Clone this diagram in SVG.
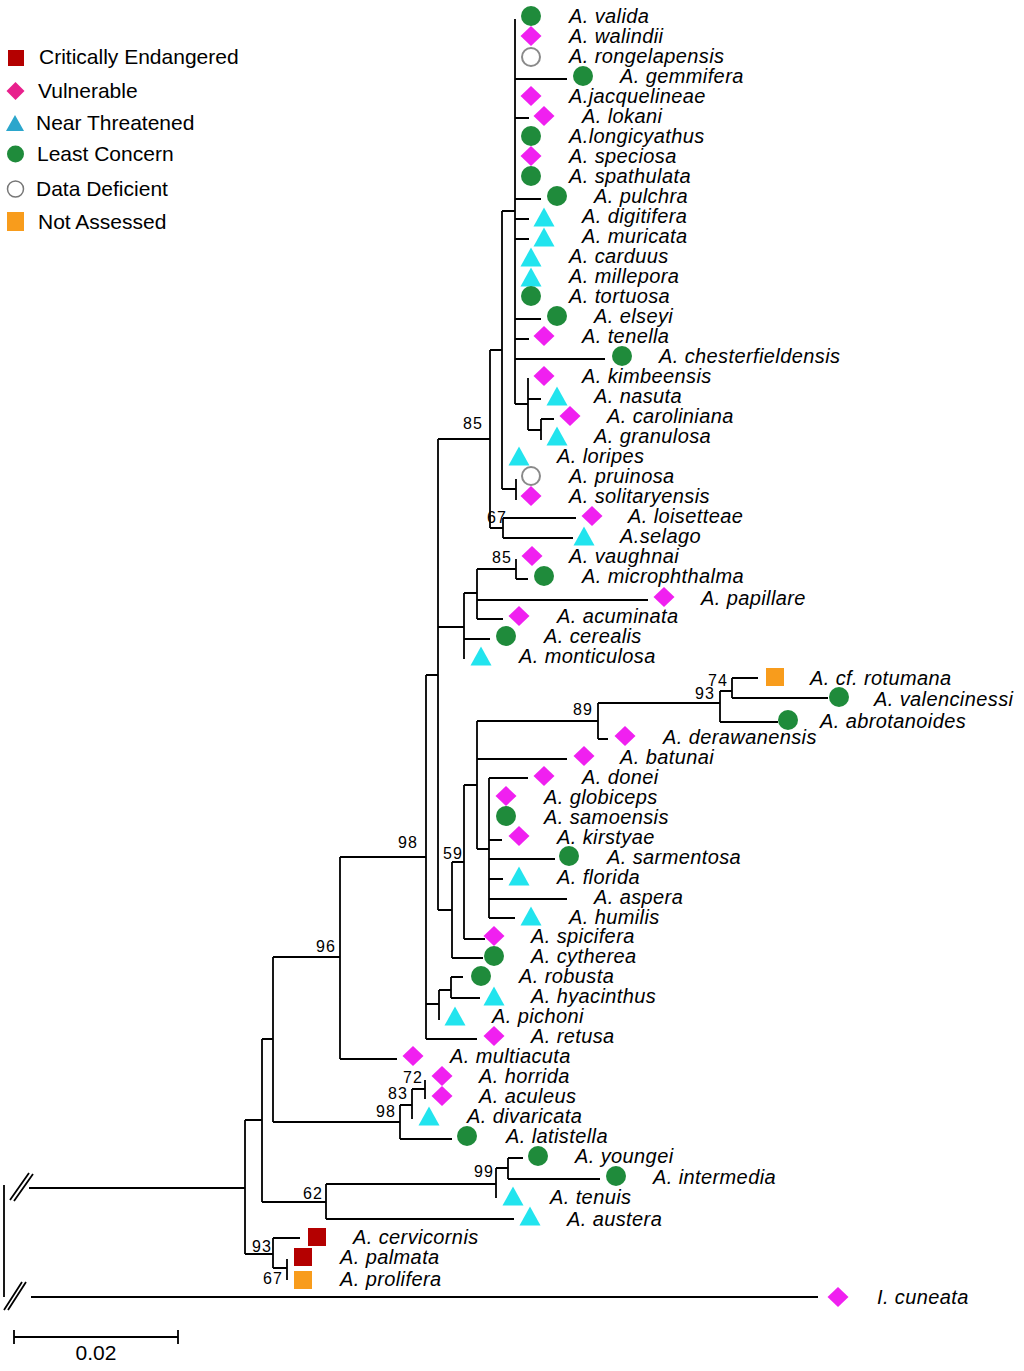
<svg xmlns="http://www.w3.org/2000/svg" xmlns:xlink="http://www.w3.org/1999/xlink" width="1024" height="1371" viewBox="0 0 1024 1371">
<style>
.lab{font-family:"Liberation Sans",Arial,sans-serif;font-style:italic;font-size:20px;letter-spacing:0.4px;fill:#000}
.bs{font-family:"Liberation Sans",Arial,sans-serif;font-size:16px;letter-spacing:1px;fill:#000}
.leg{font-family:"Liberation Sans",Arial,sans-serif;font-size:21px;fill:#000}
.br{fill:none;stroke:#000;stroke-width:1.8}
</style>
<defs>
<circle id="lc" r="10" fill="#1f8b3b"/>
<circle id="dd" r="9" fill="#fff" stroke="#8a8a8a" stroke-width="2"/>
<polygon id="vu" points="0,-10 10.5,0 0,10 -10.5,0" fill="#f020f0"/>
<polygon id="nt" points="0,-9.5 10.5,9.5 -10.5,9.5" fill="#22e4ee"/>
<rect id="cr" x="-9" y="-9" width="18" height="18" fill="#b40000"/>
<rect id="na" x="-9" y="-9" width="18" height="18" fill="#f89c1c"/>
</defs>
<rect width="1024" height="1371" fill="#fff"/>

<g id="legend">
<rect x="8" y="50" width="16" height="16" fill="#b40000"/>
<text class="leg" x="39" y="64">Critically Endangered</text>
<polygon points="15.5,82 24.5,91 15.5,100 6.5,91" fill="#e8208c"/>
<text class="leg" x="38" y="98">Vulnerable</text>
<polygon points="15,115 24,131 6,131" fill="#2ba6cc"/>
<text class="leg" x="36" y="130">Near Threatened</text>
<circle cx="15.5" cy="154" r="8.5" fill="#1f8b3b"/>
<text class="leg" x="37" y="161">Least Concern</text>
<circle cx="15.5" cy="189" r="8" fill="#fff" stroke="#777" stroke-width="1.5"/>
<text class="leg" x="36" y="196">Data Deficient</text>
<rect x="7" y="212" width="17" height="19" fill="#f89c1c"/>
<text class="leg" x="38" y="229">Not Assessed</text>
</g>

<g id="connectors" class="br">
<path d="M515 19V404 M515 79H567 M515 118H529 M515 199H541 M515 219H529 M515 239H529 M515 319H541 M515 339H529 M515 359H605 M515 404H528 M528 378V430 M528 399H541 M528 430H541 M541 419V440 M541 419H554
M502 211H515 M502 211V489 M502 489H516 M516 479V500
M490 350H502 M490 350V528 M490 528H503 M503 518V538 M503 518H576 M503 538H573
M438 439H490 M438 439V910 M438 627H464 M464 593V659 M464 593H477 M477 569V619 M477 569H516 M516 559V579 M516 579H528 M477 600H648 M477 619H503 M464 639H490
M438 910H452 M452 862V958 M452 862H464 M464 785V939 M464 939H485 M452 958H483 M464 785H477 M477 721V849 M477 721H598 M598 703V739 M598 739H608 M598 703H720 M720 691V722 M720 691H732 M732 678V698 M732 678H758 M732 698H828 M720 722H778 M477 759H567
M477 849H489 M489 778V918 M489 778H528 M489 840H502 M489 859H555 M489 879H503 M489 899H567 M489 918H515
M426 675H438 M426 675V1039 M426 1004H439 M439 990V1020 M439 990H451 M451 977V998 M451 977H463 M451 998H480 M426 1039H477
M340 857H426 M340 857V1059 M340 1059H397
M273 957H340 M273 957V1122 M273 1122H400 M400 1105V1139 M400 1105H412 M412 1089V1119 M412 1089H425 M425 1080V1099 M400 1139H452
M262 1039H273 M262 1039V1202 M262 1202H326 M326 1184V1219 M326 1184H496 M496 1168V1198 M496 1168H508 M508 1158V1179 M508 1158H523 M508 1179H600 M326 1219H514
M245 1120H262 M245 1120V1254 M245 1254H273 M273 1238V1268 M273 1238H300 M273 1268H287 M287 1259V1280
M29 1188H245 M31 1297H818 M4 1185V1297
M10 1200L29 1173 M14 1201L33 1174 M4 1310L22 1282 M8 1310L26 1282"/>
</g>

<g id="bootstrap">
<text class="bs" x="463" y="429">85</text>
<text class="bs" x="487" y="523">67</text>
<text class="bs" x="492" y="563">85</text>
<text class="bs" x="708" y="686">74</text>
<text class="bs" x="695" y="699">93</text>
<text class="bs" x="573" y="715">89</text>
<text class="bs" x="398" y="848">98</text>
<text class="bs" x="443" y="859">59</text>
<text class="bs" x="316" y="952">96</text>
<text class="bs" x="403" y="1083">72</text>
<text class="bs" x="388" y="1099">83</text>
<text class="bs" x="376" y="1117">98</text>
<text class="bs" x="474" y="1177">99</text>
<text class="bs" x="303" y="1199">62</text>
<text class="bs" x="252" y="1252">93</text>
<text class="bs" x="263" y="1284">67</text>
</g>

<g id="tips">
<g id="t-valida"><use href="#lc" x="531" y="16"/><text class="lab" x="569" y="23">A. valida</text></g>
<g id="t-walindii"><use href="#vu" x="531" y="36"/><text class="lab" x="569" y="43">A. walindii</text></g>
<g id="t-rongelapensis"><use href="#dd" x="531" y="57"/><text class="lab" x="569" y="63">A. rongelapensis</text></g>
<g id="t-gemmifera"><use href="#lc" x="583" y="76"/><text class="lab" x="620" y="83">A. gemmifera</text></g>
<g id="t-jacquelineae"><use href="#vu" x="531" y="96"/><text class="lab" x="569" y="103">A.jacquelineae</text></g>
<g id="t-lokani"><use href="#vu" x="544" y="116"/><text class="lab" x="582" y="123">A. lokani</text></g>
<g id="t-longicyathus"><use href="#lc" x="531" y="136"/><text class="lab" x="569" y="143">A.longicyathus</text></g>
<g id="t-speciosa"><use href="#vu" x="531" y="156"/><text class="lab" x="569" y="163">A. speciosa</text></g>
<g id="t-spathulata"><use href="#lc" x="531" y="176"/><text class="lab" x="569" y="183">A. spathulata</text></g>
<g id="t-pulchra"><use href="#lc" x="557" y="196"/><text class="lab" x="594" y="203">A. pulchra</text></g>
<g id="t-digitifera"><use href="#nt" x="544" y="217"/><text class="lab" x="582" y="223">A. digitifera</text></g>
<g id="t-muricata"><use href="#nt" x="544" y="237"/><text class="lab" x="582" y="243">A. muricata</text></g>
<g id="t-carduus"><use href="#nt" x="531" y="257"/><text class="lab" x="569" y="263">A. carduus</text></g>
<g id="t-millepora"><use href="#nt" x="531" y="277"/><text class="lab" x="569" y="283">A. millepora</text></g>
<g id="t-tortuosa"><use href="#lc" x="531" y="296"/><text class="lab" x="569" y="303">A. tortuosa</text></g>
<g id="t-elseyi"><use href="#lc" x="557" y="316"/><text class="lab" x="594" y="323">A. elseyi</text></g>
<g id="t-tenella"><use href="#vu" x="544" y="336"/><text class="lab" x="582" y="343">A. tenella</text></g>
<g id="t-chesterfieldensis"><use href="#lc" x="622" y="356"/><text class="lab" x="659" y="363">A. chesterfieldensis</text></g>
<g id="t-kimbeensis"><use href="#vu" x="544" y="376"/><text class="lab" x="582" y="383">A. kimbeensis</text></g>
<g id="t-nasuta"><use href="#nt" x="557" y="396"/><text class="lab" x="594" y="403">A. nasuta</text></g>
<g id="t-caroliniana"><use href="#vu" x="570" y="416"/><text class="lab" x="607" y="423">A. caroliniana</text></g>
<g id="t-granulosa"><use href="#nt" x="557" y="436"/><text class="lab" x="594" y="443">A. granulosa</text></g>
<g id="t-loripes"><use href="#nt" x="519" y="456"/><text class="lab" x="557" y="463">A. loripes</text></g>
<g id="t-pruinosa"><use href="#dd" x="531" y="476"/><text class="lab" x="569" y="483">A. pruinosa</text></g>
<g id="t-solitaryensis"><use href="#vu" x="531" y="496"/><text class="lab" x="569" y="503">A. solitaryensis</text></g>
<g id="t-loisetteae"><use href="#vu" x="592" y="516"/><text class="lab" x="628" y="523">A. loisetteae</text></g>
<g id="t-selago"><use href="#nt" x="584" y="536"/><text class="lab" x="620" y="543">A.selago</text></g>
<g id="t-vaughnai"><use href="#vu" x="532" y="556"/><text class="lab" x="569" y="563">A. vaughnai</text></g>
<g id="t-microphthalma"><use href="#lc" x="544" y="576"/><text class="lab" x="582" y="583">A. microphthalma</text></g>
<g id="t-papillare"><use href="#vu" x="664" y="597"/><text class="lab" x="701" y="605">A. papillare</text></g>
<g id="t-acuminata"><use href="#vu" x="519" y="616"/><text class="lab" x="557" y="623">A. acuminata</text></g>
<g id="t-cerealis"><use href="#lc" x="506" y="636"/><text class="lab" x="544" y="643">A. cerealis</text></g>
<g id="t-monticulosa"><use href="#nt" x="481" y="656"/><text class="lab" x="519" y="663">A. monticulosa</text></g>
<g id="t-rotumana"><use href="#na" x="775" y="677"/><text class="lab" x="810" y="685">A. cf. rotumana</text></g>
<g id="t-valencinessi"><use href="#lc" x="839" y="697"/><text class="lab" x="874" y="706">A. valencinessi</text></g>
<g id="t-abrotanoides"><use href="#lc" x="788" y="720"/><text class="lab" x="820" y="728">A. abrotanoides</text></g>
<g id="t-derawanensis"><use href="#vu" x="625" y="736"/><text class="lab" x="663" y="744">A. derawanensis</text></g>
<g id="t-batunai"><use href="#vu" x="584" y="756"/><text class="lab" x="620" y="764">A. batunai</text></g>
<g id="t-donei"><use href="#vu" x="544" y="776"/><text class="lab" x="582" y="784">A. donei</text></g>
<g id="t-globiceps"><use href="#vu" x="506" y="796"/><text class="lab" x="544" y="804">A. globiceps</text></g>
<g id="t-samoensis"><use href="#lc" x="506" y="816"/><text class="lab" x="544" y="824">A. samoensis</text></g>
<g id="t-kirstyae"><use href="#vu" x="519" y="836"/><text class="lab" x="557" y="844">A. kirstyae</text></g>
<g id="t-sarmentosa"><use href="#lc" x="569" y="856"/><text class="lab" x="607" y="864">A. sarmentosa</text></g>
<g id="t-florida"><use href="#nt" x="519" y="876"/><text class="lab" x="557" y="884">A. florida</text></g>
<g id="t-aspera"><text class="lab" x="594" y="904">A. aspera</text></g>
<g id="t-humilis"><use href="#nt" x="531" y="916"/><text class="lab" x="569" y="924">A. humilis</text></g>
<g id="t-spicifera"><use href="#vu" x="494" y="936"/><text class="lab" x="531" y="943">A. spicifera</text></g>
<g id="t-cytherea"><use href="#lc" x="494" y="956"/><text class="lab" x="531" y="963">A. cytherea</text></g>
<g id="t-robusta"><use href="#lc" x="481" y="976"/><text class="lab" x="519" y="983">A. robusta</text></g>
<g id="t-hyacinthus"><use href="#nt" x="494" y="996"/><text class="lab" x="531" y="1003">A. hyacinthus</text></g>
<g id="t-pichoni"><use href="#nt" x="455" y="1016"/><text class="lab" x="492" y="1023">A. pichoni</text></g>
<g id="t-retusa"><use href="#vu" x="494" y="1036"/><text class="lab" x="531" y="1043">A. retusa</text></g>
<g id="t-multiacuta"><use href="#vu" x="413" y="1056"/><text class="lab" x="450" y="1063">A. multiacuta</text></g>
<g id="t-horrida"><use href="#vu" x="442" y="1076"/><text class="lab" x="479" y="1083">A. horrida</text></g>
<g id="t-aculeus"><use href="#vu" x="442" y="1096"/><text class="lab" x="479" y="1103">A. aculeus</text></g>
<g id="t-divaricata"><use href="#nt" x="429" y="1116"/><text class="lab" x="467" y="1123">A. divaricata</text></g>
<g id="t-latistella"><use href="#lc" x="467" y="1136"/><text class="lab" x="506" y="1143">A. latistella</text></g>
<g id="t-youngei"><use href="#lc" x="538" y="1156"/><text class="lab" x="575" y="1163">A. youngei</text></g>
<g id="t-intermedia"><use href="#lc" x="616" y="1176"/><text class="lab" x="653" y="1184">A. intermedia</text></g>
<g id="t-tenuis"><use href="#nt" x="513" y="1196"/><text class="lab" x="550" y="1204">A. tenuis</text></g>
<g id="t-austera"><use href="#nt" x="530" y="1216"/><text class="lab" x="567" y="1226">A. austera</text></g>
<g id="t-cervicornis"><use href="#cr" x="317" y="1237"/><text class="lab" x="353" y="1244">A. cervicornis</text></g>
<g id="t-palmata"><use href="#cr" x="303" y="1257"/><text class="lab" x="340" y="1264">A. palmata</text></g>
<g id="t-prolifera"><use href="#na" x="303" y="1280"/><text class="lab" x="340" y="1286">A. prolifera</text></g>
<g id="t-cuneata"><use href="#vu" x="838" y="1297"/><text class="lab" x="877" y="1304">I. cuneata</text></g>
</g>

<g id="scalebar">
<path class="br" d="M14 1337H178 M14 1330V1344 M178 1330V1344"/>
<text class="leg" x="96" y="1360" text-anchor="middle">0.02</text>
</g>
</svg>
